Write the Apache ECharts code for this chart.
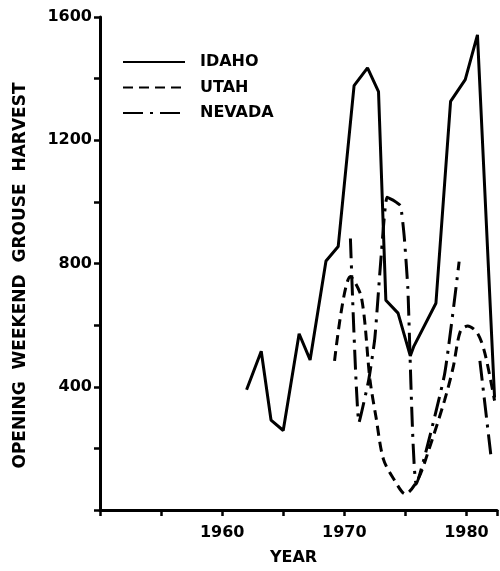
<!DOCTYPE html>
<html>
<head>
<meta charset="utf-8">
<script src="https://cdn.jsdelivr.net/npm/echarts@6/dist/echarts.min.js"></script>
<style>
  html, body { margin: 0; padding: 0; background: #fff; overflow: hidden; }
  #chart { width: 100vw; height: 100vh; }
</style>
</head>
<body>
<div id="chart"></div>
<script>
// points: [year, opening weekend harvest]
var idahoYears  = [1962.0, 1963.2, 1964.0, 1965.0, 1966.3, 1967.2, 1968.5, 1969.5, 1970.8, 1971.9,
                   1972.8, 1973.4, 1974.4, 1975.4, 1975.7, 1977.5, 1978.7, 1979.9, 1980.9, 1982.3];
var idaho       = [390, 515, 292, 258, 572, 487, 808, 855, 1377, 1435,
                   1358, 681, 639, 500, 532, 671, 1326, 1397, 1542, 365];
var utahYears   = [1969.2, 1970.5, 1971.4, 1972.1, 1972.6, 1973.2, 1974.1, 1975.0, 1976.0, 1976.8,
                   1978.2, 1978.9, 1979.5, 1980.1, 1980.9, 1981.5, 1982.3];
var utah        = [484, 758, 690, 423, 300, 165, 97, 52, 97, 181,
                   355, 461, 580, 597, 574, 510, 355];
var nevadaYears = [1970.5, 1971.2, 1972.0, 1972.5, 1973.0, 1973.5, 1974.1, 1974.6, 1974.9, 1975.2,
                   1975.9, 1978.2, 1979.4, 1980.2, 1981.1, 1982.0];
var nevada      = [881, 284, 423, 558, 816, 1015, 1003, 987, 890, 720,
                   84, 439, 806, null, 484, 177];
var yLabels = [400, 800, 1200, 1600];
var xLabels = [1960, 1970, 1980];

function pairs(xs, vals) {
    return xs.map(function (x, i) { return [x, vals[i]]; });
}

var font = 'DejaVu Sans';
var chart = echarts.init(document.getElementById('chart'));

var option = {
    animation: false,
    backgroundColor: '#fff',
    grid: { left: 100, right: 0, top: 17, bottom: 58 },
    legend: {
        left: 122,
        top: 54,
        orient: 'vertical',
        padding: 0,
        itemWidth: 62,
        itemHeight: 14,
        itemGap: 9.5,
        itemStyle: { opacity: 0 },
        textStyle: { fontFamily: font, fontWeight: 'bold', fontSize: 16, color: '#000', padding: [0, 0, 0, 10] },
        data: ['IDAHO', 'UTAH', 'NEVADA']
    },
    xAxis: {
        type: 'value',
        min: 1950,
        max: 1982.5,
        interval: 5,
        name: 'YEAR',
        nameLocation: 'middle',
        nameGap: 40,
        nameTextStyle: { fontFamily: font, fontWeight: 'bold', fontSize: 16, color: '#000', padding: [0, 10, 0, 0] },
        axisLine: { lineStyle: { color: '#000', width: 3 } },
        axisTick: { length: 6, lineStyle: { color: '#000', width: 2.5 } },
        splitLine: { show: false },
        axisLabel: {
            margin: 15,
            fontFamily: font, fontWeight: 'bold', fontSize: 16, color: '#000',
            formatter: function (v) { return xLabels.indexOf(v) >= 0 ? String(v) : ''; }
        }
    },
    yAxis: {
        type: 'value',
        min: 0,
        max: 1600,
        interval: 200,
        name: 'OPENING  WEEKEND  GROUSE  HARVEST',
        nameLocation: 'middle',
        nameGap: 71,
        nameTextStyle: { fontFamily: font, fontWeight: 'bold', fontSize: 17, color: '#000', padding: [0, 24, 0, 0] },
        axisLine: { show: true, lineStyle: { color: '#000', width: 3 } },
        axisTick: { show: true, length: 6, lineStyle: { color: '#000', width: 2.5 } },
        splitLine: { show: false },
        axisLabel: {
            margin: 8,
            fontFamily: font, fontWeight: 'bold', fontSize: 16, color: '#000',
            formatter: function (v) { return yLabels.indexOf(v) >= 0 ? String(v) : ''; }
        }
    },
    series: [
        {
            name: 'IDAHO', type: 'line', symbol: 'none',
            data: pairs(idahoYears, idaho),
            lineStyle: { color: '#000', width: 3, type: 'solid' },
            itemStyle: { color: '#000' }
        },
        {
            name: 'UTAH', type: 'line', symbol: 'none', smooth: 0.3,
            data: pairs(utahYears, utah),
            lineStyle: { color: '#000', width: 3, type: [10, 6] },
            itemStyle: { color: '#000' }
        },
        {
            name: 'NEVADA', type: 'line', symbol: 'none', smooth: 0.15,
            data: pairs(nevadaYears, nevada),
            lineStyle: { color: '#000', width: 3, type: [20, 7, 3, 7] },
            itemStyle: { color: '#000' }
        }
    ]
};

chart.setOption(option);
</script>
</body>
</html>
